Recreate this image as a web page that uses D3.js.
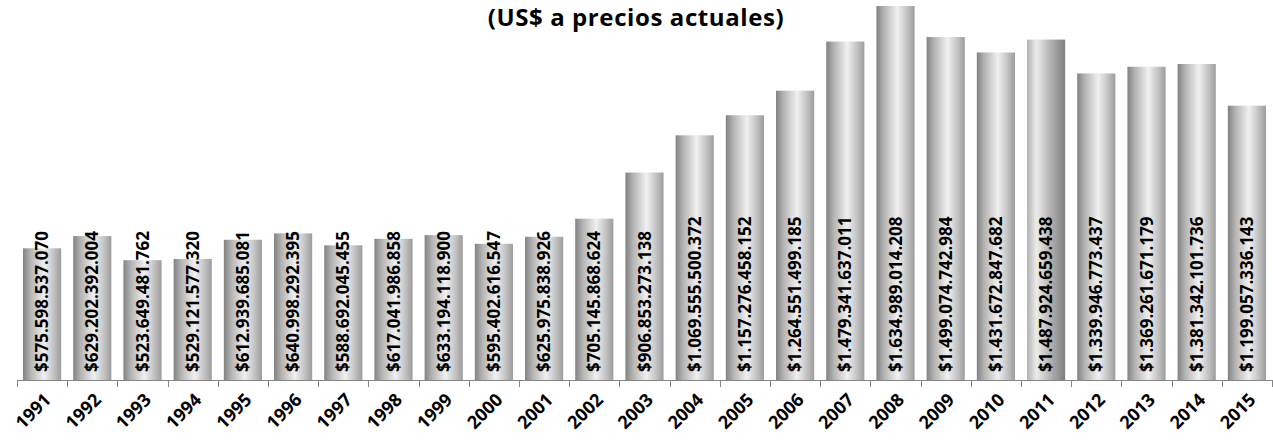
<!DOCTYPE html>
<html>
<head>
<meta charset="utf-8">
<script src="https://cdn.jsdelivr.net/npm/d3@7"></script>
<style>
  html, body { margin: 0; padding: 0; background: #fff; }
  svg { display: block; font-family: "Open Sans", "Liberation Sans", sans-serif; }
</style>
</head>
<body>
<svg id="chart" width="1273" height="440"></svg>
<script>
// PIB anual, US$ a precios actuales
const years = ["1991","1992","1993","1994","1995","1996","1997","1998","1999","2000",
  "2001","2002","2003","2004","2005","2006","2007","2008","2009","2010",
  "2011","2012","2013","2014","2015"];
const gdp = [575598537070, 629202392004, 523649481762, 529121577320, 612939685081,
  640998292395, 588692045455, 617041986858, 633194118900, 595402616547,
  625975838926, 705145868624, 906853273138, 1069555500372, 1157276458152,
  1264551499185, 1479341637011, 1634989014208, 1499074742984, 1431672847682,
  1487924659438, 1339946773437, 1369261671179, 1381342101736, 1199057336143];
const highlighted = ["2011"];
const subtitle = "(US$ a precios actuales)";

const data = years.map((y, i) => ({ year: y, value: gdp[i] }));

const svg = d3.select("#chart");

const x = d3.scaleBand()
  .domain(years)
  .range([17, 1272])
  .paddingInner(0.24)
  .paddingOuter(0.12);

const y = d3.scaleLinear()
  .domain([0, 1800e9])
  .range([380, -31.8]);

const locale = d3.formatLocale({
  decimal: ",", thousands: ".", grouping: [3], currency: ["$", ""]
});
const fmt = locale.format("$,.0f");

// cylinder-like shading for the columns
const defs = svg.append("defs");
function gradient(id, stops) {
  const g = defs.append("linearGradient").attr("id", id)
    .attr("x1", "0%").attr("x2", "100%").attr("y1", "0%").attr("y2", "0%");
  stops.forEach(([o, c]) => g.append("stop").attr("offset", o).attr("stop-color", c));
}
gradient("barShade", [["0%", "#828282"], ["20%", "#b4b4b4"], ["55%", "#f0f0f0"], ["80%", "#c4c4c4"], ["100%", "#9c9c9c"]]);
gradient("barShadeHi", [["0%", "#b2b2b2"], ["25%", "#ececec"], ["60%", "#b4b4b4"], ["100%", "#7e7e7e"]]);

svg.append("g")
  .selectAll("rect")
  .data(data)
  .join("rect")
  .attr("x", d => x(d.year))
  .attr("width", x.bandwidth())
  .attr("y", d => y(d.value))
  .attr("height", d => y(0) - y(d.value))
  .attr("fill", d => highlighted.includes(d.year) ? "url(#barShadeHi)" : "url(#barShade)");

// value labels, written upward inside each column
svg.append("g")
  .selectAll("text")
  .data(data)
  .join("text")
  .attr("transform", d => `translate(${x(d.year) + x.bandwidth() / 2},372) rotate(-90)`)
  .attr("dy", "0.36em")
  .attr("text-anchor", "start")
  .attr("font-size", 17)
  .attr("font-weight", "bold")
  .attr("fill", "#000")
  .text(d => fmt(d.value));

// category axis with ticks between the columns
const axis = svg.append("g");
const step = x.step();
const x0 = x.range()[0];
axis.append("line")
  .attr("x1", x0).attr("x2", x.range()[1])
  .attr("y1", 380.5).attr("y2", 380.5)
  .attr("stroke", "#868686").attr("stroke-width", 1);
axis.selectAll("line.tick")
  .data(d3.range(years.length + 1))
  .join("line")
  .attr("class", "tick")
  .attr("x1", k => Math.round(x0 + k * step) + 0.5)
  .attr("x2", k => Math.round(x0 + k * step) + 0.5)
  .attr("y1", 380).attr("y2", 387)
  .attr("stroke", "#868686").attr("stroke-width", 1);

axis.selectAll("text")
  .data(years)
  .join("text")
  .attr("transform", d => `translate(${x(d) + x.bandwidth() / 2 + 2},393) rotate(-45)`)
  .attr("text-anchor", "end")
  .attr("dy", "0.62em")
  .attr("font-size", 18)
  .attr("font-weight", "bold")
  .attr("fill", "#000")
  .text(d => d);

svg.append("text")
  .attr("x", 636)
  .attr("y", 26)
  .attr("text-anchor", "middle")
  .attr("font-size", 24)
  .attr("letter-spacing", 0.6)
  .attr("font-weight", "bold")
  .attr("fill", "#000")
  .text(subtitle);
</script>
</body>
</html>
